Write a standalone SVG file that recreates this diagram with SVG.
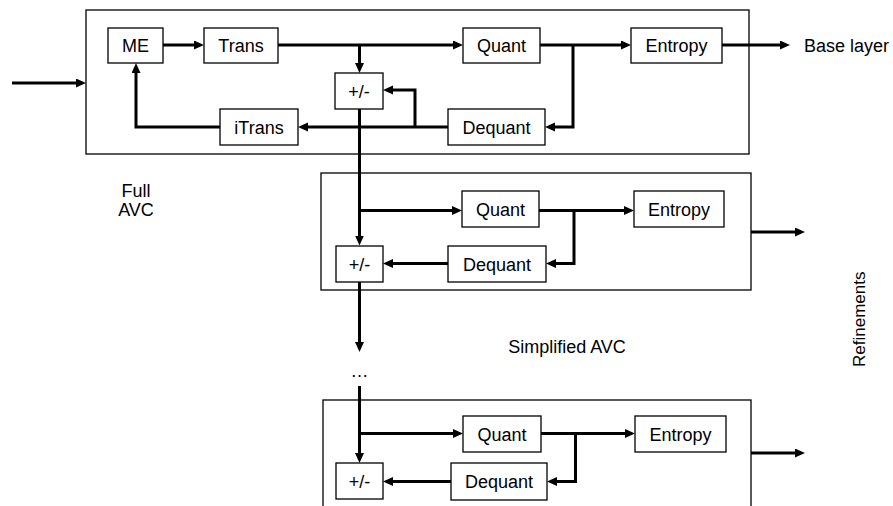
<svg xmlns="http://www.w3.org/2000/svg" width="893" height="506" viewBox="0 0 893 506">
<defs>
<marker id="ah" markerUnits="userSpaceOnUse" markerWidth="10" markerHeight="10" refX="5" refY="4.5" orient="auto">
<path d="M0,0 L10,4.5 L0,9 z" fill="#000"/>
</marker>
<style>
.frame{fill:none;stroke:#000;stroke-width:1.3}
.box{fill:#fff;stroke:#000;stroke-width:1.3}
.t{font-family:"Liberation Sans",Arial,sans-serif;font-size:18px;fill:#000;text-anchor:middle}
.lbl{font-family:"Liberation Sans",Arial,sans-serif;font-size:18px;fill:#000}
.c{fill:none;stroke:#000;stroke-width:3;stroke-linejoin:miter}
.a{marker-end:url(#ah)}
</style>
</defs>
<rect width="893" height="506" fill="#fff"/>
<g id="frames">
<rect class="frame" x="86" y="10" width="663" height="144"/>
<rect class="frame" x="321" y="173" width="430" height="117"/>
<rect class="frame" x="323" y="400" width="428" height="130"/>
</g>
<g id="connectors">
<path class="c a" d="M12,83 H81"/>
<path class="c a" d="M163,45 H199"/>
<path class="c a" d="M278,45 H458"/>
<path class="c a" d="M359.5,45 V68"/>
<path class="c a" d="M540,45 H626"/>
<path class="c a" d="M573,45 V127 H550"/>
<path class="c a" d="M448,127 H303"/>
<path class="c a" d="M415,127 V90 H388"/>
<path class="c a" d="M220,127 H136 V68"/>
<path class="c a" d="M722,45 H785"/>
<path class="c a" d="M359.5,109 V240.5"/>
<path class="c a" d="M359.5,210.5 H457"/>
<path class="c a" d="M539,210.5 H629"/>
<path class="c a" d="M574,210.5 V263.5 H551"/>
<path class="c a" d="M448,263.5 H388"/>
<path class="c a" d="M751,232 H800"/>
<path class="c a" d="M359.5,282 V347"/>
<path class="c a" d="M359.5,386 V458"/>
<path class="c a" d="M359.5,433.5 H458"/>
<path class="c a" d="M541,433.5 H630"/>
<path class="c a" d="M575.5,433.5 V481.5 H552"/>
<path class="c a" d="M451,481.5 H388"/>
<path class="c a" d="M751,453 H800"/>
</g>
<g id="me"><rect class="box" x="108" y="28" width="55" height="35"/><text class="t" x="135.5" y="52">ME</text></g>
<g id="trans"><rect class="box" x="204" y="28" width="74" height="35"/><text class="t" x="241" y="52">Trans</text></g>
<g id="quant1"><rect class="box" x="463" y="28" width="77" height="35"/><text class="t" x="501.5" y="52">Quant</text></g>
<g id="entropy1"><rect class="box" x="631" y="28" width="91" height="35"/><text class="t" x="676.5" y="52">Entropy</text></g>
<g id="pm1"><rect class="box" x="335" y="73" width="48" height="36"/><text class="t" x="359" y="97.5">+/-</text></g>
<g id="itrans"><rect class="box" x="220" y="109" width="78" height="36"/><text class="t" x="259" y="133.5">iTrans</text></g>
<g id="dequant1"><rect class="box" x="448" y="109" width="97" height="36"/><text class="t" x="496.5" y="133.5">Dequant</text></g>
<g id="quant2"><rect class="box" x="462" y="191" width="77" height="36"/><text class="t" x="500.5" y="215.5">Quant</text></g>
<g id="entropy2"><rect class="box" x="634" y="191" width="90" height="36"/><text class="t" x="679" y="215.5">Entropy</text></g>
<g id="pm2"><rect class="box" x="336" y="246" width="47" height="36"/><text class="t" x="359.5" y="270.5">+/-</text></g>
<g id="dequant2"><rect class="box" x="448" y="246" width="98" height="36"/><text class="t" x="497" y="270.5">Dequant</text></g>
<g id="quant3"><rect class="box" x="463" y="416" width="78" height="36"/><text class="t" x="502" y="440.5">Quant</text></g>
<g id="entropy3"><rect class="box" x="635" y="416" width="91" height="36"/><text class="t" x="680.5" y="440.5">Entropy</text></g>
<g id="pm3"><rect class="box" x="336" y="463" width="47" height="36"/><text class="t" x="359.5" y="487.5">+/-</text></g>
<g id="dequant3"><rect class="box" x="451" y="463" width="96" height="37"/><text class="t" x="499" y="488">Dequant</text></g>
<g id="labels">
<text class="lbl" x="804" y="52">Base layer</text>
<text class="t" x="136" y="197">Full</text>
<text class="t" x="136" y="216">AVC</text>
<text class="t" x="567" y="353">Simplified AVC</text>
<text class="t" x="359.5" y="377">…</text>
<text class="lbl" style="font-size:17px" transform="translate(865,367) rotate(-90)">Refinements</text>
</g>
</svg>
